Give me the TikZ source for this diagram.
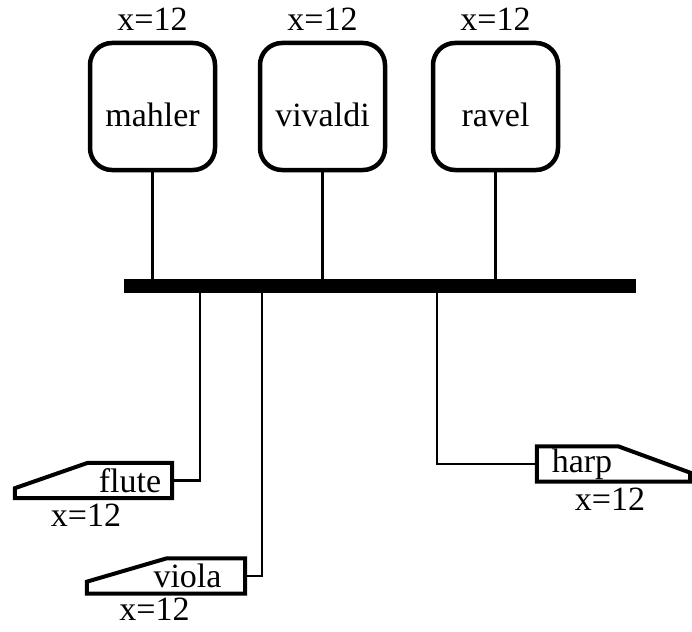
\documentclass[tikz,border=0pt]{standalone}
\usepackage{fontspec}
\setmainfont{Liberation Serif}
\usepackage{tikz}
\tikzset{
  host/.style={draw,line width=4.5pt,rounded corners=22pt,
    minimum width=125pt,minimum height=127pt,text height=41pt,text depth=0pt},
  device/.style={minimum height=35pt,inner sep=0pt},
  wedge/.style={draw,line width=4pt,line join=miter},
  bus/.style={fill=black,minimum width=512pt,minimum height=14pt,inner sep=0pt},
  wire/.style={line width=2.2pt},
  every label/.style={inner sep=0pt},
}

\begin{document}
\begin{tikzpicture}[x=1pt,y=-1pt,font=\fontsize{34}{40}\selectfont]
\useasboundingbox (0,0) rectangle (692,631);
% hosts on top of the bus
\node[host,label={[label distance=10pt]above:x=12}] (mahler) at (152.5,106.5) {mahler};
\node[host,label={[label distance=10pt]above:x=12}] (vivaldi) at (322.5,106.5) {vivaldi};
\node[host,label={[label distance=10pt]above:x=12}] (ravel) at (495.5,106.5) {ravel};
\node[bus] (bus) at (380,286) {};
\foreach \h in {mahler,vivaldi,ravel}
{
  \draw[wire] (\h.south) -- (\h.south |- bus.north);
}
% devices hanging below
\node[device,minimum width=84pt,label={[xshift=-44pt,label distance=6pt]below:x=12}] (flute) at (130,480.5) {flute};
\draw[wedge] (flute.north east) -- (flute.north west)
  -- ([xshift=-73pt,yshift=10pt]flute.south west) -- ([xshift=-73pt]flute.south west)
  -- (flute.south east) -- cycle;
\node[device,minimum width=115pt,label={[xshift=-33pt,label distance=4pt]below:x=12}] (viola) at (187.5,576) {viola};
\draw[wedge] (viola.north east) -- ([xshift=37pt]viola.north west)
  -- ([xshift=-43pt,yshift=12pt]viola.south west) -- ([xshift=-43pt]viola.south west)
  -- (viola.south east) -- cycle;
\node[device,minimum width=90pt,label={[xshift=28pt,label distance=6pt]below:x=12}] (harp) at (582,464) {harp};
\draw[wedge] (harp.north west) -- ([xshift=-9pt]harp.north east)
  -- ([xshift=63pt,yshift=9pt]harp.south east) -- ([xshift=63pt]harp.south east)
  -- (harp.south west) -- cycle;
\draw[wire] ([xshift=28pt]flute.east |- bus.south) |- (flute.east);
\draw[wire] ([xshift=17pt]viola.east |- bus.south) |- (viola.east);
\draw[wire] ([xshift=-100pt]harp.west |- bus.south) |- (harp.west);
\end{tikzpicture}
\end{document}
